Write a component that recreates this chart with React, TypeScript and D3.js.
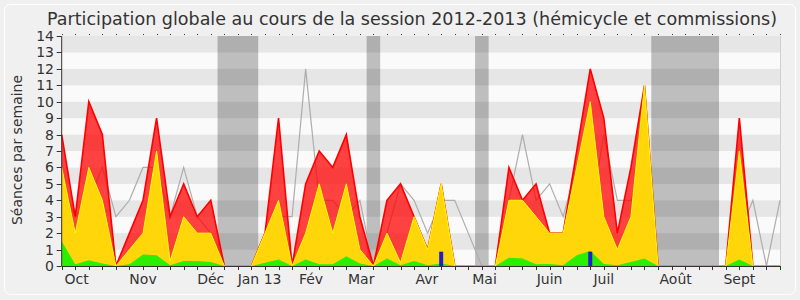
import React from "react";
import * as d3 from "d3";

// Weekly values, session 2012-2013 (54 weeks)
const totalSeances = [8, 3, 10, 8, 0, 2, 4, 9, 3, 5, 3, 4, 0, 0, 0, 2, 9, 0, 5, 7, 6, 8, 3, 0, 4, 5, 3, 1, 5, 0, 0, 0, 0, 6, 4, 5, 2, 2, 7, 12, 9, 2, 6, 11, 0, 0, 0, 0, 0, 0, 9, 0, 0, 0];
const commissionSeances = [6, 2, 6, 4, 0, 1, 2, 7, 0.3, 3, 2, 2, 0, 0, 0, 2, 4, 0, 2, 5, 2, 5, 1, 0, 2, 0.2, 3, 1, 5, 0, 0, 0, 0, 4, 4, 3, 2, 2, 6, 10, 3, 1, 3, 11, 0, 0, 0, 0, 0, 0, 7, 0, 0, 0];
const interventions = [1.5, 0.1, 0.35, 0.15, 0, 0.1, 0.7, 0.65, 0.05, 0.3, 0.3, 0.25, 0, 0, 0, 0.2, 0.4, 0, 0.4, 0.1, 0.1, 0.6, 0.15, 0, 0.45, 0.05, 0.3, 0.05, 0.15, 0, 0, 0, 0, 0.5, 0.45, 0.1, 0.12, 0.05, 0.65, 0.92, 0.12, 0.05, 0.25, 0.45, 0, 0, 0, 0, 0, 0, 0.4, 0, 0, 0];
const medianDeputes = [5, 3, 4, 6, 3, 4, 6, 6, 3, 6, 3, 2, 0, 0, 0, 2, 3, 3, 12, 4, 4, 3, 4, 0, 2, 5, 4, 2, 4, 4, 2, 0, 0, 4, 8, 4, 5, 3, 6, 3, 8, 4, 4, 6, 0, 0, 0, 0, 0, 0, 2, 4, 0, 4];
const questionsOrales = [0, 0, 0, 0, 0, 0, 0, 0, 0, 0, 0, 0, 0, 0, 0, 0, 0, 0, 0, 0, 0, 0, 0, 0, 0, 0, 0, 0, 0.87, 0, 0, 0, 0, 0, 0, 0, 0, 0, 0, 0.87, 0, 0, 0, 0, 0, 0, 0, 0, 0, 0, 0, 0, 0, 0];

const vacances: [number, number][] = [[11.5, 14.5], [22.5, 23.5], [30.5, 31.5], [43.5, 48.5]];
const monthLabels = ["Oct", "Nov", "Déc", "Jan 13", "Fév", "Mar", "Avr", "Mai", "Juin", "Juil", "Août", "Sept"];
const monthWeeks = [1.1, 6, 11, 14.6, 18.4, 22.1, 26.95, 31.2, 36, 40, 45.3, 50];
const yTicks = d3.range(0, 15);

const W = 800, H = 300;
const FONT = "'DejaVu Sans', Verdana, sans-serif";

export default function App() {
  const n = totalSeances.length;
  const x = d3.scaleLinear().domain([0, n - 1]).range([61.7, 780]);
  const y = d3.scaleLinear().domain([0, 14]).range([266, 36]);
  const idx = d3.range(n);

  const area = (vals: number[]) =>
    d3.area<number>().x((i) => x(i)).y0(y(0)).y1((i) => y(vals[i])).curve(d3.curveLinear)(idx) || "";
  const line = (vals: number[]) =>
    d3.line<number>().x((i) => x(i)).y((i) => y(vals[i])).curve(d3.curveLinear)(idx) || "";

  const x0 = x.range()[0], x1 = x.range()[1];

  return (
    <svg width={W} height={H} style={{ position: "absolute", left: 0, top: 0 }} fontFamily={FONT}>
      <rect x={0} y={0} width={W} height={H} fill="#f0f0f0" />
      <rect x={4.5} y={4.5} width={791} height={290} rx={6} fill="#f0f0f0" stroke="#ffffff" />
      {/* stripes */}
      {d3.range(0, 14).map((k) => (
        <rect key={"s" + k} x={x0} width={x1 - x0} y={y(k + 1)} height={y(k) - y(k + 1)} fill={k % 2 === 1 ? "#e6e6e6" : "#fafafa"} />
      ))}
      {/* vacations */}
      {vacances.map(([a, b], k) => (
        <rect key={"v" + k} x={x(a)} width={x(b) - x(a)} y={y(14)} height={y(0) - y(14)} fill="#000" fillOpacity={0.24} />
      ))}
      <line x1={x1 + 0.5} x2={x1 + 0.5} y1={y(14)} y2={y(0)} stroke="#cfcfcf" />
      {/* median line */}
      <path d={line(medianDeputes)} fill="none" stroke="#adadad" strokeWidth={1.2} />
      {/* areas */}
      <path d={area(totalSeances)} fill="#ff0000" fillOpacity={0.74} />
      <path d={line(totalSeances)} fill="none" stroke="#ff0000" strokeWidth={1.6} />
      <path d={area(commissionSeances)} fill="#ffd60a" />
      <path d={line(commissionSeances)} fill="none" stroke="#ffff00" strokeWidth={1} />
      <path d={area(interventions)} fill="#2bee00" />
      {/* blue bars */}
      {idx.filter((i) => questionsOrales[i] > 0).map((i) => (
        <rect key={"b" + i} x={x(i) - 2} width={4} y={y(questionsOrales[i])} height={y(0) - y(questionsOrales[i])} fill="#1f1fd0" />
      ))}
      {/* axes */}
      <line x1={x0} x2={x0} y1={y(14)} y2={y(0)} stroke="#333" />
      <line x1={x0} x2={x1} y1={y(0) + 0.5} y2={y(0) + 0.5} stroke="#333" />
      {yTicks.map((t) => (
        <g key={"y" + t}>
          <line x1={x0 - 5} x2={x0} y1={Math.round(y(t)) + 0.5} y2={Math.round(y(t)) + 0.5} stroke="#333" />
          <text x={54} y={y(t)} dy="0.36em" textAnchor="end" fontSize={14} fill="#333">{t}</text>
        </g>
      ))}
      {idx.map((i) => (
        <g key={"xt" + i}>
          <line x1={Math.round(x(i)) + 0.5} x2={Math.round(x(i)) + 0.5} y1={266} y2={270} stroke="#333" />
          <rect x={Math.round(x(i))} y={34} width={1} height={1} fill="#333" />
        </g>
      ))}
      {monthLabels.map((m, k) => (
        <text key={m} x={x(monthWeeks[k])} y={283.5} textAnchor="middle" fontSize={14} fill="#333">{m}</text>
      ))}
      <text transform="translate(22,150) rotate(-90)" textAnchor="middle" fontSize={14} fill="#333">Séances par semaine</text>
      <text x={412} y={25} textAnchor="middle" fontSize={18} fill="#333" textLength={730} lengthAdjust="spacingAndGlyphs">
        Participation globale au cours de la session 2012-2013 (hémicycle et commissions)
      </text>
    </svg>
  );
}
